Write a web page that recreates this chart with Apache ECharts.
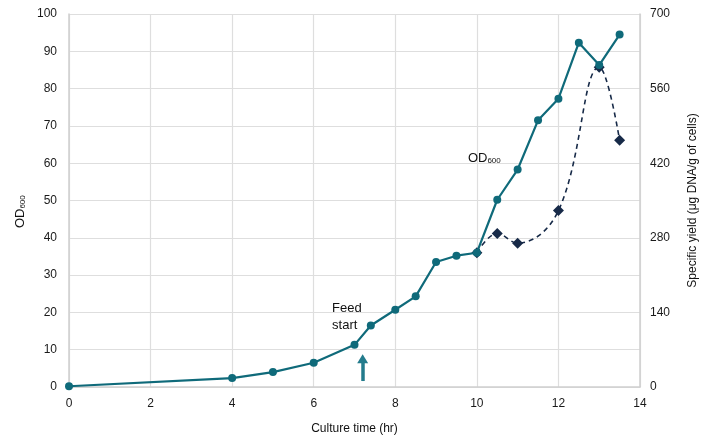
<!DOCTYPE html>
<html><head><meta charset="utf-8">
<script src="https://cdn.jsdelivr.net/npm/echarts@6/dist/echarts.min.js"></script>
<style>html,body{margin:0;padding:0;background:#fff}#c{width:701px;height:437px}</style>
</head><body><div id="c"></div>
<script>
const odTime = [0, 4, 5, 6, 7, 7.4, 8, 8.5, 9, 9.5, 10, 10.5, 11, 11.5, 12, 12.5, 13, 13.5];
const odValues = [0.2, 2.4, 4, 6.5, 11.3, 16.5, 20.7, 24.3, 33.5, 35.2, 36, 50.2, 58.3, 71.5, 77.3, 92.3, 86.3, 94.5];
const yieldTime = [10, 10.5, 11, 12, 13, 13.5];
const yieldValues = [252, 288, 270, 331, 600, 463];
const xTicks = {min: 0, max: 14, interval: 2};
const leftTicks = {min: 0, max: 100, interval: 10};
const rightTicks = {min: 0, max: 700, interval: 140};
const feedArrow = {x: 7.2, from: 1.6, to: 7.6};

const FONT = '"Liberation Sans", Arial, sans-serif';
const TEAL = '#0f6a7a';
const NAVY = '#172a48';
const chart = echarts.init(document.getElementById('c'));
const zip = (a, b) => a.map((v, i) => [v, b[i]]);
const tickLabel = {color: '#1a1a1a', fontSize: 12, fontFamily: FONT};
chart.setOption({
  animation: false,
  grid: {left: 69, right: 61, top: 14, bottom: 50, outerBoundsMode: 'none', containLabel: false},
  xAxis: {
    type: 'value', min: xTicks.min, max: xTicks.max, interval: xTicks.interval,
    name: 'Culture time (hr)', nameLocation: 'middle', nameGap: 36,
    nameTextStyle: {color: '#111', fontSize: 12, fontFamily: FONT},
    axisLine: {lineStyle: {color: '#cfcfcf', width: 1.5}}, axisTick: {show: false},
    axisLabel: Object.assign({margin: 11}, tickLabel),
    splitLine: {show: true, lineStyle: {color: '#dedede', width: 1.2}}
  },
  yAxis: [{
    type: 'value', min: leftTicks.min, max: leftTicks.max, interval: leftTicks.interval,
    axisLine: {show: true, lineStyle: {color: '#cfcfcf', width: 1.5}}, axisTick: {show: false},
    axisLabel: Object.assign({margin: 12}, tickLabel),
    splitLine: {show: true, lineStyle: {color: '#dedede', width: 1.2}}
  }, {
    type: 'value', min: rightTicks.min, max: rightTicks.max, interval: rightTicks.interval,
    name: 'Specific yield (μg DNA/g of cells)', nameLocation: 'middle', nameGap: 47,
    nameRotate: 90,
    nameTextStyle: {color: '#111', fontSize: 12, fontFamily: FONT},
    axisLine: {show: true, lineStyle: {color: '#cfcfcf', width: 1.5}}, axisTick: {show: false},
    axisLabel: Object.assign({margin: 10}, tickLabel),
    splitLine: {show: false}
  }],
  series: [{
    type: 'line', name: 'yield', yAxisIndex: 1, data: zip(yieldTime, yieldValues),
    smooth: 0.4, symbol: 'diamond', symbolSize: 11,
    lineStyle: {color: NAVY, width: 1.6, type: [5, 4]}, itemStyle: {color: NAVY}, z: 2
  }, {
    type: 'line', name: 'OD', yAxisIndex: 0, data: zip(odTime, odValues),
    symbol: 'circle', symbolSize: 8,
    lineStyle: {color: TEAL, width: 2.2}, itemStyle: {color: TEAL}, z: 3,
    markLine: {
      silent: true, symbol: ['none', 'triangle'], symbolSize: [11, 9],
      label: {show: false},
      lineStyle: {color: '#237b8c', width: 3.5, type: 'solid'},
      data: [[{coord: [feedArrow.x, feedArrow.from]}, {coord: [feedArrow.x, feedArrow.to]}]]
    }
  }]
});
const p1 = chart.convertToPixel({xAxisIndex: 0, yAxisIndex: 0}, [6.45, 23.3]);
const p2 = chart.convertToPixel({xAxisIndex: 0, yAxisIndex: 0}, [9.78, 63]);
const pc = chart.convertToPixel({xAxisIndex: 0, yAxisIndex: 0}, [0, 47]);
chart.setOption({
  graphic: [{
    type: 'text', left: p1[0], top: p1[1],
    style: {text: 'Feed\nstart', font: '13px ' + FONT, fill: '#111', lineHeight: 17}
  }, {
    type: 'text', left: p2[0], top: p2[1],
    style: {text: '{a|OD}{b|600}', rich: {a: {font: '13px ' + FONT, fill: '#111'}, b: {font: '8px ' + FONT, fill: '#111', padding: [5, 0, 0, 0]}}}
  }, {
    type: 'text', x: 20, y: pc[1], rotation: Math.PI / 2,
    style: {text: '{a|OD}{b|600}', align: 'center', verticalAlign: 'middle',
      rich: {a: {font: '13px ' + FONT, fill: '#111'}, b: {font: '8px ' + FONT, fill: '#111', padding: [5, 0, 0, 0]}}}
  }]
});
</script></body></html>
